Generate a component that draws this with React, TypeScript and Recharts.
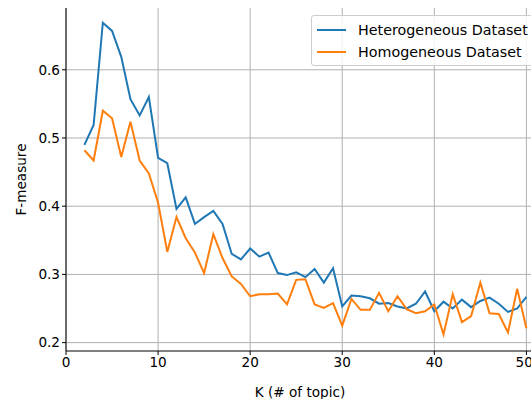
import React from 'react';
import { LineChart, Line, XAxis, YAxis, CartesianGrid } from 'recharts';

const kValues = [2,3,4,5,6,7,8,9,10,11,12,13,14,15,16,17,18,19,20,21,22,23,24,25,26,27,28,29,30,31,32,33,34,35,36,37,38,39,40,41,42,43,44,45,46,47,48,49,50];
const heterogeneous = [0.490,0.519,0.669,0.657,0.619,0.557,0.533,0.560,0.471,0.463,0.396,0.413,0.374,0.384,0.393,0.374,0.330,0.322,0.338,0.326,0.332,0.302,0.299,0.303,0.296,0.308,0.288,0.309,0.253,0.269,0.268,0.265,0.257,0.258,0.253,0.250,0.257,0.275,0.246,0.260,0.250,0.263,0.252,0.261,0.266,0.257,0.245,0.250,0.267];
const homogeneous = [0.482,0.467,0.540,0.529,0.472,0.524,0.467,0.448,0.405,0.333,0.384,0.353,0.332,0.302,0.359,0.324,0.297,0.286,0.268,0.271,0.271,0.272,0.256,0.292,0.293,0.256,0.251,0.258,0.225,0.264,0.248,0.248,0.273,0.246,0.268,0.249,0.243,0.246,0.256,0.212,0.271,0.230,0.239,0.288,0.243,0.242,0.215,0.279,0.221];
const xTicks = [0, 10, 20, 30, 40, 50];
const yTicks = [0.2, 0.3, 0.4, 0.5, 0.6];
const seriesNames = ['Heterogeneous Dataset', 'Homogeneous Dataset'];
const colors = ['#1f77b4', '#ff7f0e'];

const data = kValues.map((k, i) => ({ k, het: heterogeneous[i], hom: homogeneous[i] }));

const FONT = '"DejaVu Sans", sans-serif';
const FS = 13.6;

const LegendBox = () => (
  <div style={{
    position: 'absolute', left: 311, top: 15, width: 222, height: 51,
    border: '1px solid #cccccc', borderRadius: 3, background: 'rgba(255,255,255,0.85)',
    padding: '3px 0 0 5px', fontFamily: FONT, fontSize: 14.3, color: '#000', boxSizing: 'border-box'
  }}>
    {seriesNames.map((n, i) => (
      <div key={n} style={{ display: 'flex', alignItems: 'center', height: 22, whiteSpace: 'nowrap' }}>
        <div style={{ width: 29, height: 2, background: colors[i], marginRight: 12 }} />
        <span>{n}</span>
      </div>
    ))}
  </div>
);

export default function App() {
  return (
    <div style={{ position: 'absolute', left: 0, top: 0, width: 531, height: 399, background: '#fff', overflow: 'hidden' }}>
      <LineChart width={531} height={399} data={data} margin={{ top: 8, right: 0, bottom: 0, left: 0 }}>
        <CartesianGrid stroke="#b0b0b0" strokeWidth={1} horizontalValues={yTicks} verticalValues={xTicks} />
        <XAxis
          dataKey="k" type="number" domain={[0, 50.5]} ticks={xTicks} height={48}
          axisLine={{ stroke: '#000', strokeWidth: 1 }} tickLine={{ stroke: '#000' }} tickSize={4}
          tick={{ fill: '#000', fontSize: FS, fontFamily: FONT }} allowDataOverflow
          label={{ value: 'K (# of topic)', position: 'insideBottom', offset: 2, dx: 1.5, fill: '#000', fontSize: FS, fontFamily: FONT }}
        />
        <YAxis
          type="number" domain={[0.1877, 0.6906]} ticks={yTicks} width={66}
          axisLine={{ stroke: '#000', strokeWidth: 1 }} tickLine={{ stroke: '#000' }} tickSize={4}
          tick={{ fill: '#000', fontSize: FS, fontFamily: FONT }} allowDataOverflow
          tickFormatter={(v: number) => v.toFixed(1)}
          label={{ value: 'F-measure', angle: -90, position: 'insideLeft', offset: 21, fill: '#000', fontSize: FS, fontFamily: FONT, style: { textAnchor: 'middle' } }}
        />
        <Line dataKey="het" name={seriesNames[0]} stroke={colors[0]} strokeWidth={2} dot={false} isAnimationActive={false} />
        <Line dataKey="hom" name={seriesNames[1]} stroke={colors[1]} strokeWidth={2} dot={false} isAnimationActive={false} />
      </LineChart>
      <LegendBox />
    </div>
  );
}
